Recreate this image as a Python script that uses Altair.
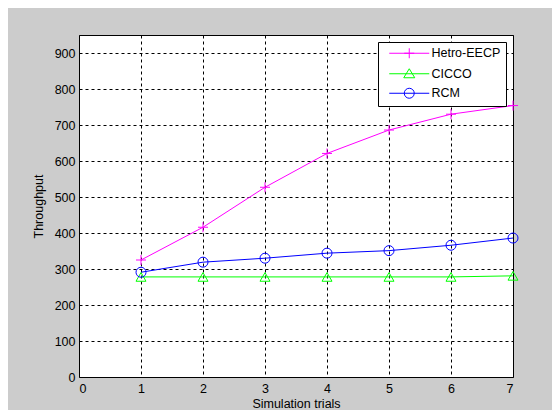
import altair as alt
import pandas as pd

trials = [1, 2, 3, 4, 5, 6, 7]
hetro = [325, 416, 527, 621, 686, 730, 754]
cicco = [278, 278, 278, 278, 278, 278, 281]
rcm = [291, 319, 330, 344, 351, 366, 386]
series_names = ["Hetro-EECP", "CICCO", "RCM"]
series_colors = ["#ff00ff", "#00ff00", "#0000ff"]
x_ticks = [0, 1, 2, 3, 4, 5, 6, 7]
y_ticks = [0, 100, 200, 300, 400, 500, 600, 700, 800, 900]

rows = []
for name, vals in zip(series_names, [hetro, cicco, rcm]):
    for t, v in zip(trials, vals):
        rows.append({"trial": t, "value": v, "series": name})
df = pd.DataFrame(rows)

plot_shapes = ["M-1,0L1,0M0,-1L0,1", "triangle-up", "circle"]
legend_shapes = [
    "M0,0L8,0M3,0L5,0M4,-1L4,1",
    "M0,0L8,0M4,-1L5.1,0.8L2.9,0.8Z",
    "M0,0L8,0M5,0A1,1 0 1,1 3,0A1,1 0 1,1 5,0",
]

x = alt.X("trial:Q", scale=alt.Scale(domain=[0, 7], nice=False),
          axis=alt.Axis(values=x_ticks, title="Simulation trials", format="d",
                        labelPadding=5, titlePadding=3))
y = alt.Y("value:Q", scale=alt.Scale(domain=[0, 950], nice=False),
          axis=alt.Axis(values=y_ticks, title="Throughput", format="d",
                        labelPadding=4, titlePadding=9))

color_plain = alt.Color("series:N", scale=alt.Scale(domain=series_names, range=series_colors), legend=None)

lines = alt.Chart(df).mark_line(strokeWidth=1).encode(x=x, y=y, color=color_plain)
points = alt.Chart(df).mark_point(filled=False, size=100, strokeWidth=1, opacity=1).encode(
    x=x, y=y, color=color_plain,
    shape=alt.Shape("series:N", scale=alt.Scale(domain=series_names, range=plot_shapes), legend=None),
)
legend_layer = alt.Chart(df).transform_filter("false").mark_point(
    filled=False, size=100, strokeWidth=1, opacity=1
).encode(
    x=x, y=y,
    color=alt.Color("series:N", scale=alt.Scale(domain=series_names, range=series_colors),
                    legend=alt.Legend(title=None)),
    shape=alt.Shape("series:N", scale=alt.Scale(domain=series_names, range=legend_shapes),
                    legend=alt.Legend(title=None)),
)

chart = alt.layer(lines, points, legend_layer).resolve_scale(
    color="independent", shape="independent"
).properties(
    width=434, height=342,
    autosize=alt.AutoSizeParams(type="none"),
    padding={"left": 71, "top": 27, "right": 39, "bottom": 33},
).configure(
    background="#cccccc",
).configure_view(
    fill="white", stroke="black", strokeWidth=1,
).configure_axis(
    labelFont="Liberation Sans", titleFont="Liberation Sans",
    labelFontSize=12.5, titleFontSize=12.5, labelColor="#000000", titleColor="#000000",
    titleFontWeight="normal",
    grid=True, gridColor="black", gridDash=[3, 3], gridOpacity=1, gridWidth=1,
    domain=False, ticks=False,
).configure_legend(
    orient="none", legendX=299, legendY=7,
    strokeColor="black", fillColor="white", padding=5,
    symbolSize=100, symbolStrokeWidth=1,
    labelFont="Liberation Sans", labelFontSize=12.5, labelColor="black",
    labelOffset=36, rowPadding=5.5, cornerRadius=0,
)

chart.save("out.html", embed_options={"renderer": "svg", "actions": False})
